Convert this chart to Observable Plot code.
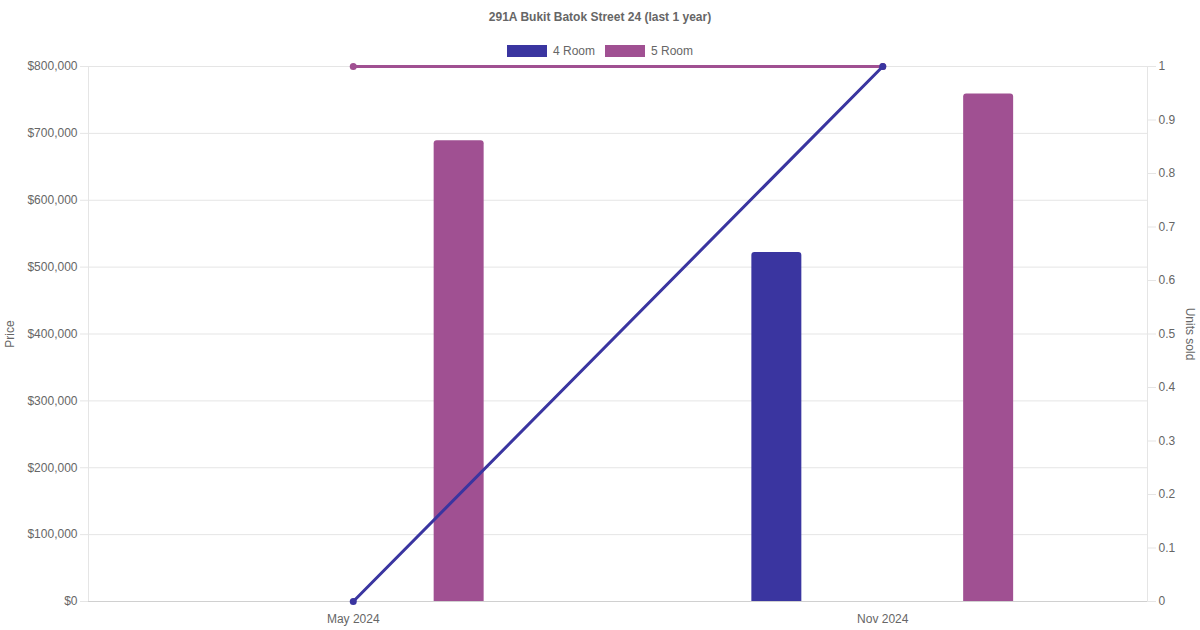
<!DOCTYPE html>
<html>
<head>
<meta charset="utf-8">
<script src="https://cdn.jsdelivr.net/npm/d3@7"></script>
<script src="https://cdn.jsdelivr.net/npm/@observablehq/plot@0.6"></script>
<style>
  html, body { margin: 0; padding: 0; background: #fff; overflow: hidden; }
  body { width: 1200px; height: 630px; font-family: "Liberation Sans", Arial, Helvetica, sans-serif; color: #666; }
  #title { height: 34px; line-height: 34px; text-align: center; font-weight: bold; font-size: 12px; color: #666; }
  #legend { height: 22px; position: relative; }
  #legend .items { position: absolute; top: 10px; left: 0; width: 1200px; display: flex; justify-content: center; align-items: center; font-size: 12px; color: #666; }
  #legend .item { display: flex; align-items: center; margin: 0 5px; }
  #legend .swatch { width: 38px; height: 10px; margin-right: 6px; border: 1px solid; }
</style>
</head>
<body>
<div id="title">291A Bukit Batok Street 24 (last 1 year)</div>
<div id="legend"><div class="items"></div></div>
<div id="chart"></div>
<script>
const months = ["May 2024", "Nov 2024"];
const rooms = ["4 Room", "5 Room"];
const roomColors = ["#3a35a0", "#a05092"];
const price4Room = [null, 522000];
const price5Room = [689000, 759000];
const units4Room = [0, 1];
const units5Room = [1, 1];
const priceTicks = [0, 100000, 200000, 300000, 400000, 500000, 600000, 700000, 800000];
const unitTicks = [0, 0.1, 0.2, 0.3, 0.4, 0.5, 0.6, 0.7, 0.8, 0.9, 1];
const priceMax = 800000;
const unitMax = 1;
const slots = ["before", "4 Room", "center", "5 Room", "after"];

const key = (m, s) => m + "|" + s;
const xDomain = months.flatMap(m => slots.map(s => key(m, s)));
const centerKeys = months.map(m => key(m, "center"));

const bars = [];
months.forEach((m, i) => {
  [price4Room, price5Room].forEach((arr, j) => {
    if (arr[i] != null) bars.push({key: key(m, rooms[j]), room: rooms[j], price: arr[i]});
  });
});
const unitsRows = (arr, room) => months.map((m, i) => ({key: key(m, "center"), room, units: arr[i]}));
const line4 = unitsRows(units4Room, "4 Room");
const line5 = unitsRows(units5Room, "5 Room");
const toY = u => u / unitMax * priceMax;

// Legend
const items = document.querySelector("#legend .items");
rooms.forEach((r, i) => {
  const it = document.createElement("div");
  it.className = "item";
  const sw = document.createElement("span");
  sw.className = "swatch";
  sw.style.background = roomColors[i];
  sw.style.borderColor = roomColors[i];
  const t = document.createElement("span");
  t.textContent = r;
  it.appendChild(sw); it.appendChild(t);
  items.appendChild(it);
});

const fmtPrice = d => "$" + d3.format(",")(d);

const chart = Plot.plot({
  width: 1200,
  height: 574,
  marginTop: 10,
  marginBottom: 29,
  marginLeft: 88,
  marginRight: 53,
  style: {fontFamily: "'Liberation Sans', Arial, Helvetica, sans-serif", fontSize: "12px", color: "#666", background: "white", overflow: "visible"},
  x: {type: "band", domain: xDomain, paddingInner: 0.528, paddingOuter: 0.264, round: false, axis: null},
  y: {domain: [0, priceMax], axis: null},
  color: {domain: rooms, range: roomColors},
  marks: [
    Plot.gridY(priceTicks, {stroke: "#e5e5e5", strokeOpacity: 1}),
    Plot.axisY(priceTicks, {anchor: "left", tickSize: 8, tickPadding: 3, stroke: "#e5e5e5", strokeOpacity: 1, fill: "#666", tickFormat: fmtPrice, label: null}),
    Plot.axisY(unitTicks.map(toY), {anchor: "right", tickSize: 8, tickPadding: 3, stroke: "#e5e5e5", strokeOpacity: 1, fill: "#666", tickFormat: d => String(+(d / priceMax * unitMax).toFixed(1)), label: null}),
    Plot.axisX(centerKeys, {anchor: "bottom", tickSize: 0, tickPadding: 13, fill: "#666", tickFormat: k => k.split("|")[0], label: null}),
    Plot.frame({anchor: "left", stroke: "#e5e5e5", strokeOpacity: 1}),
    Plot.frame({anchor: "right", stroke: "#e5e5e5", strokeOpacity: 1}),
    Plot.barY(bars, {x: "key", y: "price", fill: "room", rx: 3, ry: 3, insetBottom: -6, clip: true}),
    Plot.ruleY([0], {stroke: "#d0d0d0"}),
    Plot.line(line5, {x: "key", y: d => toY(d.units), stroke: "room", strokeWidth: 3}),
    Plot.dot(line5, {x: "key", y: d => toY(d.units), fill: "room", r: 3.5}),
    Plot.line(line4, {x: "key", y: d => toY(d.units), stroke: "room", strokeWidth: 3}),
    Plot.dot(line4, {x: "key", y: d => toY(d.units), fill: "room", r: 3.5}),
    Plot.text(["Price"], {text: d => d, frameAnchor: "left", textAnchor: "middle", dx: -78, rotate: -90, fill: "#666", fontSize: 12}),
    Plot.text(["Units sold"], {text: d => d, frameAnchor: "right", textAnchor: "middle", dx: 42, rotate: 90, fill: "#666", fontSize: 12})
  ]
});
document.getElementById("chart").appendChild(chart);
</script>
</body>
</html>
